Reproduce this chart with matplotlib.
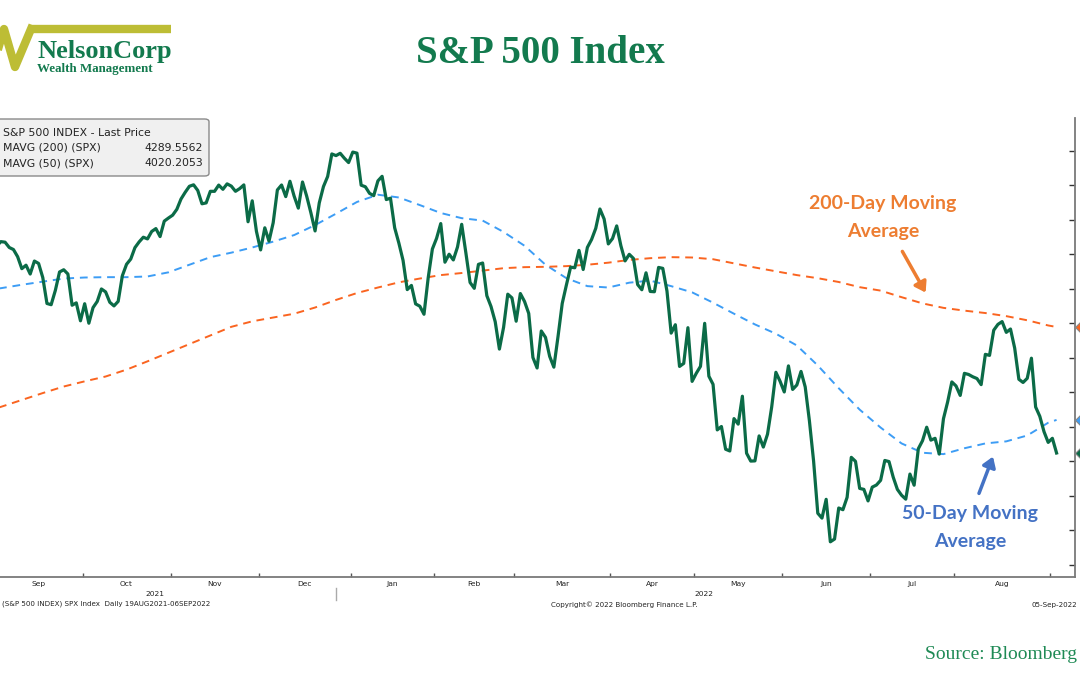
import matplotlib
matplotlib.use("Agg")
import matplotlib.pyplot as plt
import numpy as np
import pandas as pd
from matplotlib.patches import FancyBboxPatch
from matplotlib.transforms import blended_transform_factory

# S&P 500 daily closes, 19 Aug 2021 - 2 Sep 2022
spx = [
    # Aug 2021
    4405.8, 4441.7, 4479.5, 4486.2, 4496.2, 4470.0, 4509.4, 4528.8, 4522.7,
    # Sep
    4524.1, 4537.0, 4535.4, 4520.0, 4514.1, 4493.3, 4458.6, 4468.7, 4443.1, 4480.7,
    4473.8, 4433.0, 4357.7, 4354.2, 4395.6, 4449.0, 4455.5, 4443.1, 4352.6, 4359.5, 4307.5,
    # Oct
    4357.0, 4300.5, 4345.7, 4363.6, 4399.8, 4391.3, 4361.2, 4350.7, 4363.8, 4438.3,
    4471.4, 4486.5, 4519.6, 4536.2, 4549.8, 4544.9, 4566.5, 4574.8, 4551.7, 4596.4, 4605.4,
    # Nov
    4613.7, 4630.7, 4660.6, 4680.1, 4697.5, 4701.7, 4685.3, 4646.7, 4649.3, 4682.9,
    4682.8, 4700.9, 4688.7, 4704.5, 4698.0, 4682.9, 4690.7, 4701.5, 4594.6, 4655.3, 4567.0,
    # Dec
    4513.0, 4577.1, 4538.4, 4591.7, 4686.8, 4701.2, 4667.5, 4712.0, 4669.0, 4634.1,
    4709.9, 4668.7, 4620.6, 4568.0, 4649.2, 4696.6, 4725.8, 4791.2, 4786.4, 4793.1, 4778.7, 4766.2,
    # Jan 2022
    4796.6, 4793.5, 4700.6, 4696.1, 4677.0, 4670.3, 4713.1, 4726.4, 4659.0, 4662.9,
    4577.1, 4532.8, 4482.7, 4397.9, 4410.1, 4356.5, 4349.9, 4326.5, 4431.9, 4515.6,
    # Feb
    4546.5, 4589.4, 4477.4, 4500.5, 4483.9, 4521.5, 4587.2, 4504.1, 4418.6, 4401.7,
    4471.1, 4475.0, 4380.3, 4348.9, 4304.8, 4225.5, 4288.7, 4384.7, 4373.9,
    # Mar
    4306.3, 4386.5, 4363.5, 4328.9, 4201.1, 4170.7, 4277.9, 4259.5, 4204.3, 4173.1,
    4262.5, 4357.9, 4411.7, 4463.1, 4461.2, 4511.6, 4456.2, 4520.2, 4543.1, 4575.5,
    4631.6, 4602.5, 4530.4,
    # Apr
    4545.9, 4582.6, 4525.1, 4481.2, 4500.2, 4488.3, 4412.5, 4397.5, 4446.6, 4392.6,
    4391.7, 4462.2, 4459.5, 4393.7, 4271.8, 4296.1, 4175.2, 4184.0, 4287.5, 4131.9,
    # May
    4155.4, 4175.5, 4300.2, 4146.9, 4123.3, 3991.2, 4001.1, 3935.2, 3930.1, 4023.9,
    4008.0, 4088.9, 3923.7, 3900.8, 3901.4, 3973.8, 3941.5, 3978.7, 4057.8, 4158.2, 4132.2,
    # Jun
    4101.2, 4176.8, 4108.5, 4121.4, 4160.7, 4115.8, 4017.8, 3900.9, 3749.6, 3735.5,
    3790.0, 3666.8, 3674.8, 3764.8, 3759.9, 3795.7, 3911.7, 3900.1, 3821.6, 3818.8, 3785.4,
    # Jul
    3825.3, 3831.4, 3845.1, 3902.6, 3899.4, 3854.4, 3818.8, 3801.8, 3790.4, 3863.2,
    3830.9, 3936.7, 3959.9, 3999.0, 3961.6, 3966.8, 3921.1, 4023.6, 4072.4, 4130.3,
    # Aug
    4118.6, 4091.2, 4155.2, 4151.9, 4145.2, 4140.1, 4122.5, 4210.2, 4207.3, 4280.2,
    4297.1, 4305.2, 4274.0, 4283.7, 4228.5, 4138.0, 4128.7, 4140.8, 4199.1, 4057.7,
    4030.6, 3986.2, 3955.0,
    # Sep
    3966.9, 3924.26,
]

# market holidays in the window
holidays = ["2021-09-06", "2021-11-25", "2021-12-24", "2022-01-17", "2022-02-21",
            "2022-04-15", "2022-05-30", "2022-06-20", "2022-07-04"]

# moving averages, every 5th session plus the last one
ma50 = [4388, 4395, 4402, 4412, 4421, 4430, 4433, 4434, 4434, 4436,
        4448, 4470, 4492, 4505, 4520, 4537, 4556, 4585, 4618, 4652,
        4673, 4665, 4643, 4620, 4605, 4598, 4565, 4525, 4470, 4431,
        4408, 4404, 4418, 4424, 4408, 4390, 4360, 4328, 4297, 4270,
        4236, 4178, 4112, 4050, 3998, 3952, 3925, 3921, 3938, 3952,
        3958, 3975, 4012, 4020.2053]
ma200 = [4020, 4039, 4058, 4078, 4098, 4117, 4132, 4146, 4166, 4190,
         4215, 4240, 4265, 4290, 4306, 4317, 4328, 4346, 4368, 4388,
         4404, 4419, 4430, 4440, 4446, 4453, 4460, 4463, 4464, 4466,
         4470, 4476, 4484, 4489, 4492, 4491, 4486, 4474, 4462, 4451,
         4440, 4431, 4420, 4405, 4395, 4376, 4358, 4345, 4337, 4330,
         4321, 4309, 4294, 4289.5562]

legend_names = ["S&P 500 INDEX - Last Price", "MAVG (200) (SPX)", "MAVG (50) (SPX)"]
legend_values = ["", "4289.5562", "4020.2053"]

GREEN = "#0b6b47"
BLUE = "#3d9df5"
ORANGE = "#fa6420"
TXTGREEN = "#137a4e"
OLIVE = "#bdbd35"

days = pd.bdate_range("2021-08-19", "2022-09-02")
days = days[~days.isin(pd.to_datetime(holidays))]
n = len(days)
x = np.arange(n)
ma_x = list(range(0, n, 5)) + [n - 1]

W, H = 1080, 675
fig = plt.figure(figsize=(W / 100, H / 100), dpi=100)


def fx(px):
    return px / W


def fy(py):
    return 1 - py / H


# axes run off the left edge of the picture, like the cropped original
ax_left, ax_right, ax_top, ax_bot = -45.2, 1075, 118, 577
ax = fig.add_axes([fx(ax_left), fy(ax_bot), (ax_right - ax_left) / W, (ax_bot - ax_top) / H])

ax.plot(x, spx, color=GREEN, lw=2.3, zorder=3)
ax.plot(ma_x, ma50, color=BLUE, lw=1.4, ls=(0, (4, 3)), zorder=2)
ax.plot(ma_x, ma200, color=ORANGE, lw=1.4, ls=(0, (4, 3)), zorder=2)

ax.set_xlim(-1, 266.4)
ax.set_ylim(3564.8, 4895.4)

for s in ["top", "left"]:
    ax.spines[s].set_visible(False)
for s in ["bottom", "right"]:
    ax.spines[s].set_color("#7a7a7a")
    ax.spines[s].set_linewidth(1.3)

ax.yaxis.tick_right()
ax.set_yticks(np.arange(3600, 4801, 100))
ax.tick_params(axis="y", direction="in", length=4, width=1, colors="#333333", labelright=False)

# month ticks at boundaries, labels centred in each month
months = days.to_period("M")
starts = [i for i in range(1, n) if months[i] != months[i - 1]]
bounds = [i - 0.5 for i in starts]
ax.set_xticks(bounds)
ax.set_xticklabels([])
centers = [(a + b) / 2 for a, b in zip(bounds[:-1], bounds[1:])]
labels = [days[i].strftime("%b") for i in starts[:-1]]
ax.set_xticks(centers, minor=True)
ax.set_xticklabels(labels, minor=True, fontsize=5.4, color="#222222")
ax.tick_params(axis="x", which="major", direction="in", length=3, width=1, colors="#555555")
ax.tick_params(axis="x", which="minor", length=0, pad=3)

trans = blended_transform_factory(ax.transData, ax.transAxes)
jan = [i for i in starts if days[i].month == 1][0] - 0.5
for yr, (a, b) in zip(["2021", "2022"], [(0, jan), (jan, n - 1)]):
    ax.text((a + b) / 2, -0.037, yr, transform=trans, ha="center", va="center",
            fontsize=5.4, color="#222222")
ax.plot([jan - 3.5, jan - 3.5], [-0.024, -0.05], transform=trans, color="#aaaaaa",
        lw=1, clip_on=False)

# value tags on the right axis
for val, col in [(ma200[-1], ORANGE), (ma50[-1], BLUE), (spx[-1], GREEN)]:
    ax.plot([268.3], [val], marker="D", ms=8, color=col, mec="#888888", mew=0.8,
            clip_on=False, zorder=5)

# legend box (top left, its left side runs off the picture)
box = FancyBboxPatch((fx(-20), fy(176)), fx(229), (176 - 119) / H,
                     boxstyle="round,pad=0,rounding_size=0.004",
                     transform=fig.transFigure, facecolor="#f0f0f0",
                     edgecolor="#8a8a8a", lw=1)
fig.patches.append(box)
for k, (name, val) in enumerate(zip(legend_names, legend_values)):
    yy = fy(133 + 15 * k)
    fig.text(fx(3), yy, name, fontsize=7.8, color="#222222", va="center", ha="left",
             family="DejaVu Sans")
    if val:
        fig.text(fx(203), yy, val, fontsize=7.8, color="#222222", va="center", ha="right",
                 family="DejaVu Sans")

# title
fig.text(fx(540), fy(63), "S&P 500 Index", fontsize=28, fontweight="bold",
         family="Liberation Serif", color=TXTGREEN, ha="center", va="baseline")

# logo
fig.add_artist(plt.Line2D([fx(-7), fx(4), fx(15), fx(31)], [fy(66), fy(29), fy(67), fy(29)],
                          color=OLIVE, lw=6, solid_joinstyle="round"))
fig.add_artist(plt.Line2D([fx(30), fx(171)], [fy(29), fy(29)], color=OLIVE, lw=6,
                          solid_capstyle="butt"))
fig.text(fx(37), fy(58), "NelsonCorp", fontsize=19, fontweight="bold",
         family="Liberation Serif", color=TXTGREEN, ha="left", va="baseline")
fig.text(fx(37), fy(72), "Wealth Management", fontsize=9.4, fontweight="bold",
         family="Liberation Serif", color=TXTGREEN, ha="left", va="baseline")

# annotations
fig.text(fx(883), fy(203), "200-Day Moving", fontsize=14, fontweight="bold",
         family="Lato", color="#ed7d31", ha="center", va="center")
fig.text(fx(883), fy(231), "Average", fontsize=14, fontweight="bold",
         family="Lato", color="#ed7d31", ha="center", va="center")
fig.text(fx(970), fy(513), "50-Day Moving", fontsize=14, fontweight="bold",
         family="Lato", color="#4472c4", ha="center", va="center")
fig.text(fx(970), fy(541), "Average", fontsize=14, fontweight="bold",
         family="Lato", color="#4472c4", ha="center", va="center")
fig.add_artist(matplotlib.patches.FancyArrowPatch(
    (fx(901), fy(249)), (fx(927), fy(295)), transform=fig.transFigure,
    arrowstyle="-|>,head_length=6,head_width=4", lw=2.5, color="#ed7d31"))
fig.add_artist(matplotlib.patches.FancyArrowPatch(
    (fx(978), fy(496)), (fx(994), fy(454)), transform=fig.transFigure,
    arrowstyle="-|>,head_length=6,head_width=4", lw=2.5, color="#4472c4"))

# footer
fig.text(fx(2), fy(604), "(S&P 500 INDEX) SPX Index  Daily 19AUG2021-06SEP2022",
         fontsize=5.1, color="#222222", va="center", ha="left")
fig.text(fx(551), fy(605), "Copyright\u00a9 2022 Bloomberg Finance L.P.",
         fontsize=5.1, color="#222222", va="center", ha="left")
fig.text(fx(1077), fy(605), "05-Sep-2022", fontsize=5.1, color="#222222",
         va="center", ha="right")
fig.text(fx(1077), fy(659), "Source: Bloomberg", fontsize=14, family="Liberation Serif",
         color="#1f8a55", ha="right", va="baseline")

fig.savefig("out.png", dpi=100)
